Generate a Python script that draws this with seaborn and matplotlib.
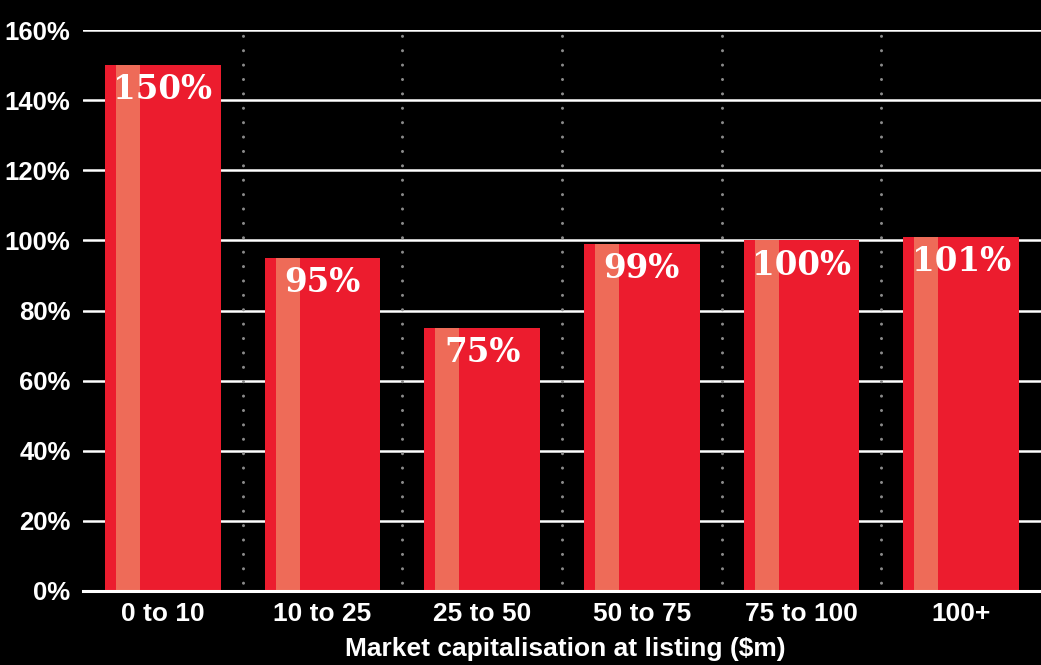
import numpy as np
import matplotlib.pyplot as plt
import matplotlib.patches as mpatches
import pandas as pd
import seaborn as sns

# market cap buckets and the returns
buckets = ['0 to 10', '10 to 25', '25 to 50', '50 to 75', '75 to 100', '100+']
returns = [150, 95, 75, 99, 100, 101]
y_ticks = [0, 20, 40, 60, 80, 100, 120, 140, 160]

df = pd.DataFrame({'bucket': buckets, 'ret': returns})

sns.set_style('dark')
plt.rcParams['font.family'] = ['Liberation Sans', 'DejaVu Sans']

bar_red = '#EC1C2E'
stripe = '#EE6B58'

fig = plt.figure(figsize=(10.41, 6.65), dpi=100, facecolor='black')
ax = fig.add_axes([83 / 1041, 1 - 591 / 665, 1 - 83 / 1041, (591 - 30) / 665])
ax.set_facecolor('black')

sns.barplot(data=df, x='bucket', y='ret', color=bar_red, saturation=1,
            width=0.725, ax=ax, zorder=3, linewidth=0)

# lighter stripe on the left side of each bar
for p in list(ax.patches):
    x0, w, h = p.get_x(), p.get_width(), p.get_height()
    ax.add_patch(mpatches.Rectangle((x0 + 0.095 * w, 0), 0.207 * w, h,
                                    color=stripe, lw=0, zorder=4))

for i, v in enumerate(returns):
    ax.annotate(f'{v}%', (i, v), xytext=(0, -6), textcoords='offset points',
                ha='center', va='top', color='white', fontsize=23.5,
                fontweight='bold', family=['DejaVu Serif'], zorder=5)

ax.set_xlim(-0.5, 5.47)
ax.set_ylim(0, 160)
ax.set_yticks(y_ticks)
ax.set_yticklabels([f'{t}%' for t in y_ticks])

ax.grid(False)
for t in y_ticks[1:]:
    ax.axhline(t, color='white', lw=1.8, zorder=1)
for b in np.arange(0.5, 5, 1):
    ax.axvline(b, color='#8a8a8a', lw=2.2, linestyle=(2, (0.01, 4.7)),
               dash_capstyle='round', zorder=1)

for s in ['top', 'right', 'left']:
    ax.spines[s].set_visible(False)
ax.spines['bottom'].set_color('white')
ax.spines['bottom'].set_linewidth(2.2)
ax.spines['bottom'].set_zorder(6)

ax.set_xticks(np.arange(-0.5, 6, 1), minor=True)
ax.tick_params(axis='x', which='minor', length=9, width=1.8, color='white')
ax.tick_params(axis='x', which='major', length=0, pad=8, labelsize=19,
               labelcolor='white')
ax.tick_params(axis='y', length=0, pad=9, labelsize=18.5, labelcolor='white')
for lab in ax.get_xticklabels() + ax.get_yticklabels():
    lab.set_fontweight('bold')

ax.set_ylabel('')
ax.set_xlabel('Market capitalisation at listing ($m)', color='white',
              fontsize=19, fontweight='bold')
ax.xaxis.set_label_coords((565 - 83) / (1041 - 83), -0.082)

fig.savefig('out.png', dpi=100, facecolor='black')
